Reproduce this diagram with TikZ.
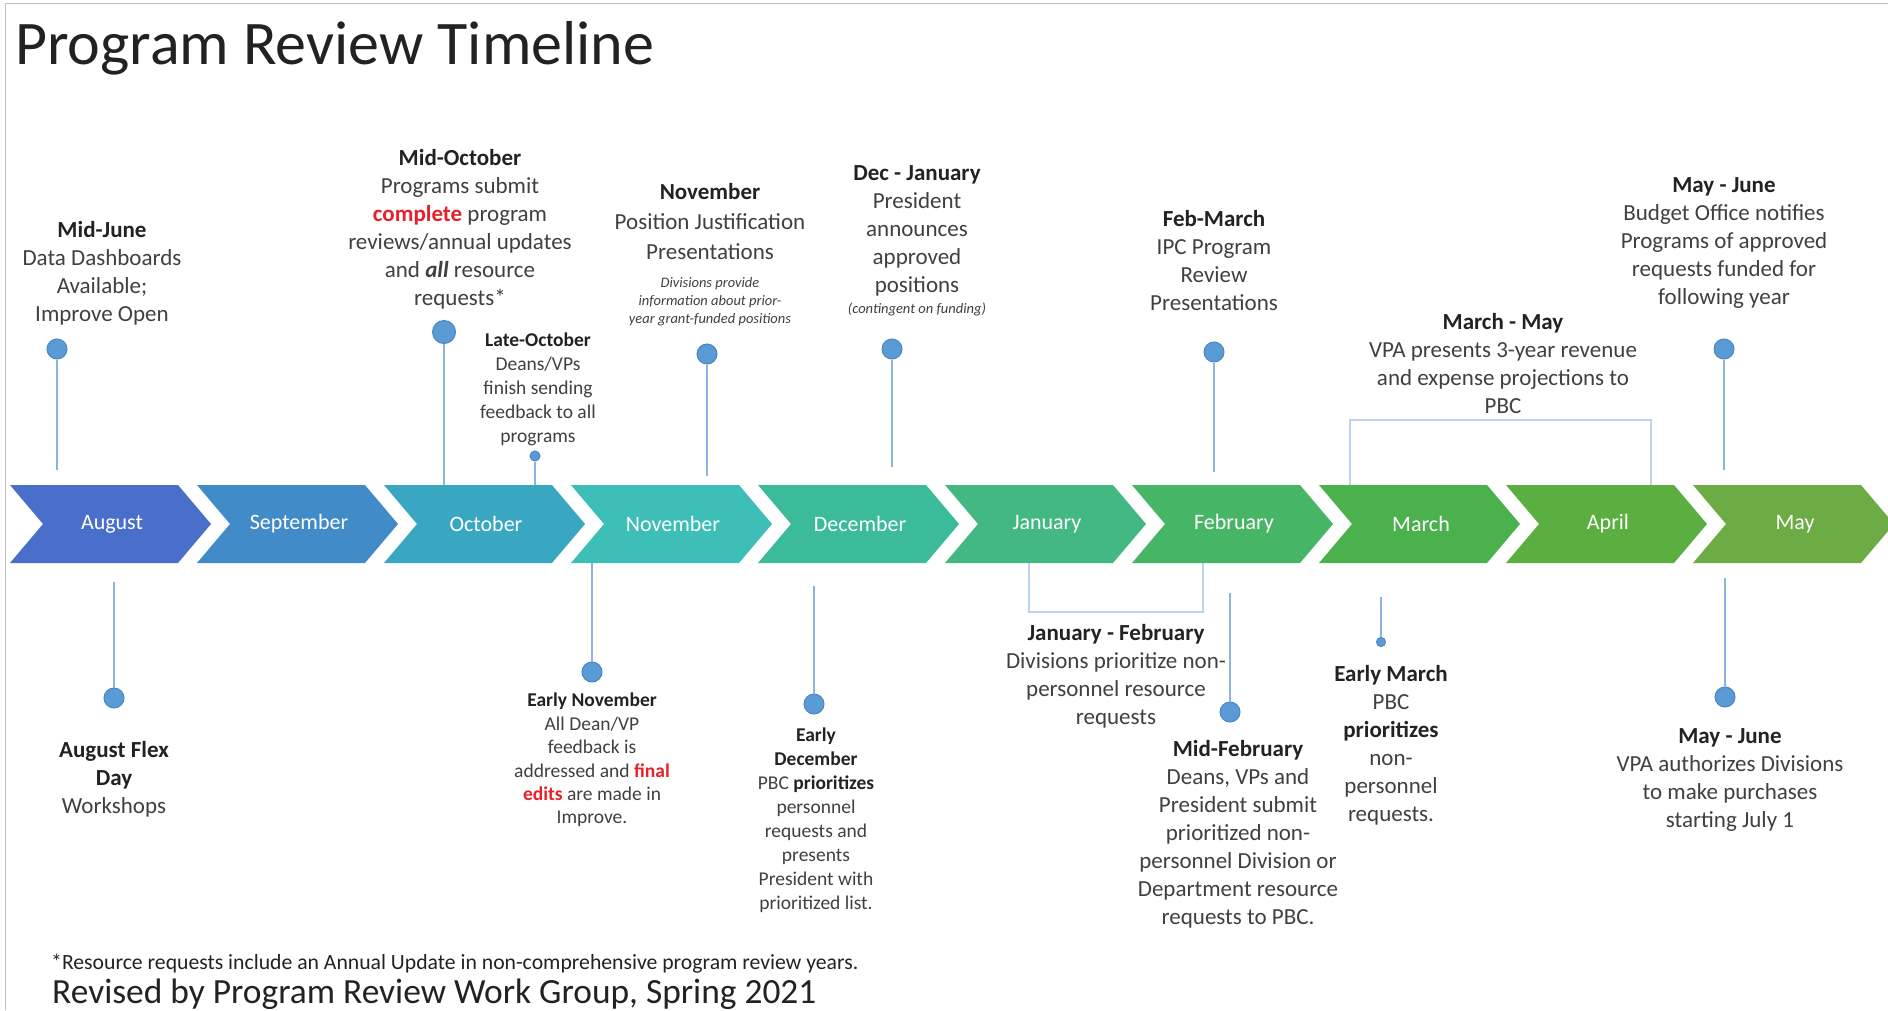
\documentclass[tikz,border=0pt]{standalone}
\usepackage{fontspec}
\setmainfont{Carlito}
\definecolor{txt}{HTML}{404040}
\definecolor{hdr}{HTML}{222222}
\definecolor{dotc}{HTML}{5B9BD5}
\definecolor{dotb}{HTML}{4A86C5}
\definecolor{stemc}{HTML}{8DB3E2}
\definecolor{brkc}{HTML}{BCD3EE}
\definecolor{redc}{HTML}{E8202A}
\definecolor{c1}{HTML}{4A6FCB}
\definecolor{c2}{HTML}{418BC8}
\definecolor{c3}{HTML}{3AA7C2}
\definecolor{c4}{HTML}{3DBEB7}
\definecolor{c5}{HTML}{3CBB9A}
\definecolor{c6}{HTML}{44B882}
\definecolor{c7}{HTML}{47B566}
\definecolor{c8}{HTML}{4AB14D}
\definecolor{c9}{HTML}{5BAF40}
\definecolor{c10}{HTML}{6DAB45}
\newcommand{\evhd}[1]{{\color{hdr}\bfseries #1}}
\newcommand{\redbf}[1]{{\color{redc}\bfseries #1}}
\tikzset{
  evtxt/.style={align=center, text=txt, inner sep=0pt, anchor=north, font=\fontsize{23}{28}\selectfont},
  evsmall/.style={evtxt, font=\fontsize{19.5}{24}\selectfont},
  evtiny/.style={evtxt, font=\fontsize{14.5}{18}\selectfont\itshape},
  evdot/.style={circle, fill=dotc, draw=dotb, line width=1pt, inner sep=0pt, minimum size=20pt},
  evsmalldot/.style={evdot, minimum size=10pt},
  stemline/.style={draw=stemc, line width=1.5pt},
  bracketline/.style={draw=brkc, line width=1.5pt},
  monthlbl/.style={text=white, font=\fontsize{22}{26}\selectfont, inner sep=0pt},
}
\begin{document}
\begin{tikzpicture}[x=1pt,y=-1pt]
\clip (0,0) rectangle (1888,1010);
\fill[white] (0,0) rectangle (1888,1010);
\draw[black!25, line width=1pt] (5,1010) -- (5,3) -- (1888,3);

% title and footer
\node[anchor=base west, inner sep=0pt, text=hdr, font=\fontsize{62}{70}\selectfont] (title) at (15,64) {Program Review Timeline};
\node[anchor=base west, inner sep=0pt, text=hdr, font=\fontsize{21.7}{26}\selectfont] (foot) at (51,969) {*Resource requests include an Annual Update in non-comprehensive program review years.};
\node[anchor=base west, inner sep=0pt, text=hdr, font=\fontsize{35.4}{40}\selectfont] (revised) at (52,1003) {Revised by Program Review Work Group, Spring 2021};

% top events
\node[evtxt] (t1) at (102,221) {\evhd{Mid-June}\\Data Dashboards\\Available;\\Improve Open};
\node[evtxt] (t2) at (460,149) {\evhd{Mid-October}\\Programs submit\\\redbf{complete} program\\reviews/annual updates\\and \textbf{\textit{all}} resource\\requests*};
\node[evsmall] (t3) at (538,333) {\evhd{Late-October}\\Deans/VPs\\finish sending\\feedback to all\\programs};
\node[evtxt, font=\fontsize{23}{30}\selectfont] (t4) at (710,183) {\evhd{November}\\Position Justification\\Presentations};
\node[evtiny] (t4n) at (710,277) {Divisions provide\\information about prior-\\year grant-funded positions};
\node[evtxt] (t5) at (917,165) {\evhd{Dec - January}\\President\\announces\\approved\\positions};
\node[evtiny] (t5n) at (917,303) {(contingent on funding)};
\node[evtxt] (t6) at (1214,210) {\evhd{Feb-March}\\IPC Program\\Review\\Presentations};
\node[evtxt] (t7) at (1503,313) {\evhd{March - May}\\VPA presents 3-year revenue\\and expense projections to\\PBC};
\node[evtxt] (t8) at (1724,177) {\evhd{May - June}\\Budget Office notifies\\Programs of approved\\requests funded for\\following year};

% bottom events
\node[evtxt] (t9) at (114,741) {\evhd{August Flex}\\\evhd{Day}\\Workshops};
\node[evsmall, font=\fontsize{19.5}{23.4}\selectfont] (t10) at (592,693) {\evhd{Early November}\\All Dean/VP\\feedback is\\addressed and \redbf{final}\\\redbf{edits} are made in\\Improve.};
\node[evsmall] (t11) at (816,728) {\evhd{Early}\\\evhd{December}\\PBC \evhd{prioritizes}\\personnel\\requests and\\presents\\President with\\prioritized list.};
\node[evtxt] (t12) at (1116,624) {\evhd{January - February}\\Divisions prioritize non-\\personnel resource\\requests};
\node[evtxt] (t13) at (1238,740) {\evhd{Mid-February}\\Deans, VPs and\\President submit\\prioritized non-\\personnel Division or\\Department resource\\requests to PBC.};
\node[evtxt] (t14) at (1391,665) {\evhd{Early March}\\PBC\\\evhd{prioritizes}\\non-\\personnel\\requests.};
\node[evtxt] (t15) at (1730,728) {\evhd{May - June}\\VPA authorizes Divisions\\to make purchases\\starting July 1};

% dots
\node[evdot] (d1) at (57,349) {};
\node[evdot, minimum size=23pt] (d2) at (444,332) {};
\node[evsmalldot] (d3) at (535,456) {};
\node[evdot] (d4) at (707,354) {};
\node[evdot] (d5) at (892,349) {};
\node[evdot] (d6) at (1214,352) {};
\node[evdot] (d8) at (1724,349) {};
\node[evdot] (d9) at (114,698) {};
\node[evdot] (d10) at (592,672) {};
\node[evdot] (d11) at (814,704) {};
\node[evdot] (d13) at (1230,712) {};
\node[evsmalldot, minimum size=9pt] (d14) at (1381,642) {};
\node[evdot] (d15) at (1725,697) {};

% stem end points
\coordinate (s1) at (57,470);
\coordinate (s2) at (444,487);
\coordinate (s3) at (535,487);
\coordinate (s4) at (707,476);
\coordinate (s5) at (892,467);
\coordinate (s6) at (1214,472);
\coordinate (s8) at (1724,470);
\coordinate (s9) at (114,582);
\coordinate (s10) at (592,563);
\coordinate (s11) at (814,586);
\coordinate (s13) at (1230,593);
\coordinate (s14) at (1381,597);
\coordinate (s15) at (1725,578);
\foreach \k in {1,2,3,4,5,6,8,9,10,11,13,14,15} {
  \draw[stemline] (d\k) -- (s\k);
}

% brackets
\coordinate (ba1) at (1350,486);
\coordinate (ba2) at (1350,420);
\coordinate (ba3) at (1651,420);
\coordinate (ba4) at (1651,486);
\draw[bracketline] (ba1) -- (ba2) -- (ba3) -- (ba4);
\coordinate (bb1) at (1029,562);
\coordinate (bb2) at (1029,612);
\coordinate (bb3) at (1203,612);
\coordinate (bb4) at (1203,562);
\draw[bracketline] (bb1) -- (bb2) -- (bb3) -- (bb4);

% chevrons
\foreach \i/\nm/\col in {0/August/c1, 1/September/c2, 2/October/c3, 3/November/c4, 4/December/c5, 5/January/c6, 6/February/c7, 7/March/c8, 8/April/c9, 9/May/c10} {
  \pgfmathsetmacro{\xo}{10+187*\i}
  \fill[\col] (\xo,485) -- ++(168,0) -- ++(33,39) -- ++(-33,39) -- ++(-168,0) -- ++(33,-39) -- cycle;
  \node[monthlbl] (m\i) at (\xo+102,524) {\nm};
}
\end{tikzpicture}
\end{document}
